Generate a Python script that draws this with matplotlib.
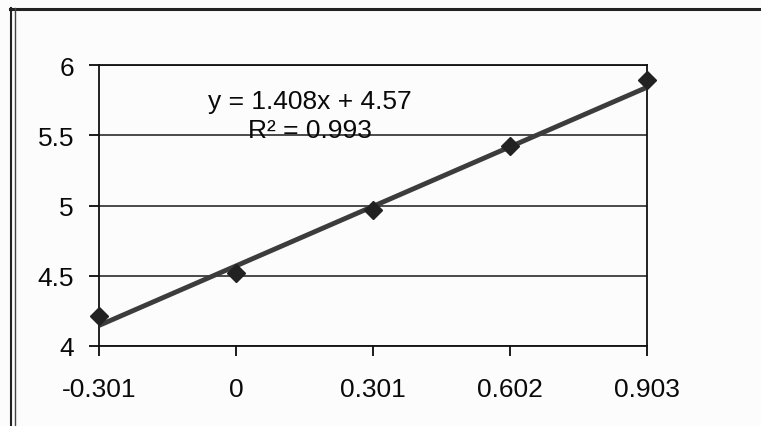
import matplotlib
matplotlib.use("Agg")
import matplotlib.pyplot as plt
from matplotlib.lines import Line2D
import numpy as np

x_vals = [-0.301, 0.0, 0.301, 0.602, 0.903]
y_vals = [4.21, 4.52, 4.97, 5.42, 5.89]
x_tick_labels = ["-0.301", "0", "0.301", "0.602", "0.903"]
y_ticks = [4, 4.5, 5, 5.5, 6]
y_tick_labels = ["4", "4.5", "5", "5.5", "6"]
slope = 1.408
intercept = 4.57
eq_text = "y = 1.408x + 4.57"
r2_text = "R² = 0.993"

plt.rcParams['font.family'] = ['Liberation Sans', 'DejaVu Sans']

W, H = 761, 427
fig = plt.figure(figsize=(W / 100, H / 100), dpi=100)
fig.patch.set_facecolor('#fcfcfc')

left, right, bottom, top = 99, 647, 347, 66
ax = fig.add_axes([left / W, 1 - bottom / H, (right - left) / W, (bottom - top) / H])
ax.set_facecolor('#fcfcfc')

ax.set_xlim(x_vals[0], x_vals[-1])
ax.set_ylim(4, 6)
ax.set_xticks(x_vals)
ax.set_xticklabels(x_tick_labels)
ax.set_yticks(y_ticks)
ax.set_yticklabels(y_tick_labels)
ax.tick_params(axis='both', labelsize=19, colors='#0a0a0a', length=7, width=1.3, direction='out')
ax.tick_params(axis='y', pad=11)
ax.tick_params(axis='x', pad=15)

for yv in y_ticks:
    ax.axhline(yv, color='#1a1a1a', linewidth=1.1, zorder=1)
for side in ['left', 'bottom', 'right', 'top']:
    ax.spines[side].set_color('#111111')
    ax.spines[side].set_linewidth(1.3)

xs = np.array([x_vals[0], x_vals[-1]])
ax.plot(xs, slope * xs + intercept, color='#3c3c3c', linewidth=3.5, zorder=3, solid_capstyle='butt')
ax.plot(x_vals, y_vals, linestyle='none', marker='D', markersize=9.5, color='#222222', zorder=4, clip_on=False)

ax.text(0.163, 5.745, eq_text, fontsize=19, ha='center', va='center', color='#0a0a0a', zorder=5)
ax.text(0.163, 5.535, r2_text, fontsize=19, ha='center', va='center', color='#0a0a0a', zorder=5)

# outer chart border (cropped scan)
fig.add_artist(Line2D([10 / W, 1.0], [1 - 10 / H, 1 - 10 / H], color='#222222', linewidth=2.2))
fig.add_artist(Line2D([11 / W, 11 / W], [0, 1 - 9 / H], color='#222222', linewidth=1.5))
fig.add_artist(Line2D([14.5 / W, 14.5 / W], [0, 1 - 9 / H], color='#444444', linewidth=1.0))

fig.savefig('out.png', dpi=100, facecolor=fig.get_facecolor())
